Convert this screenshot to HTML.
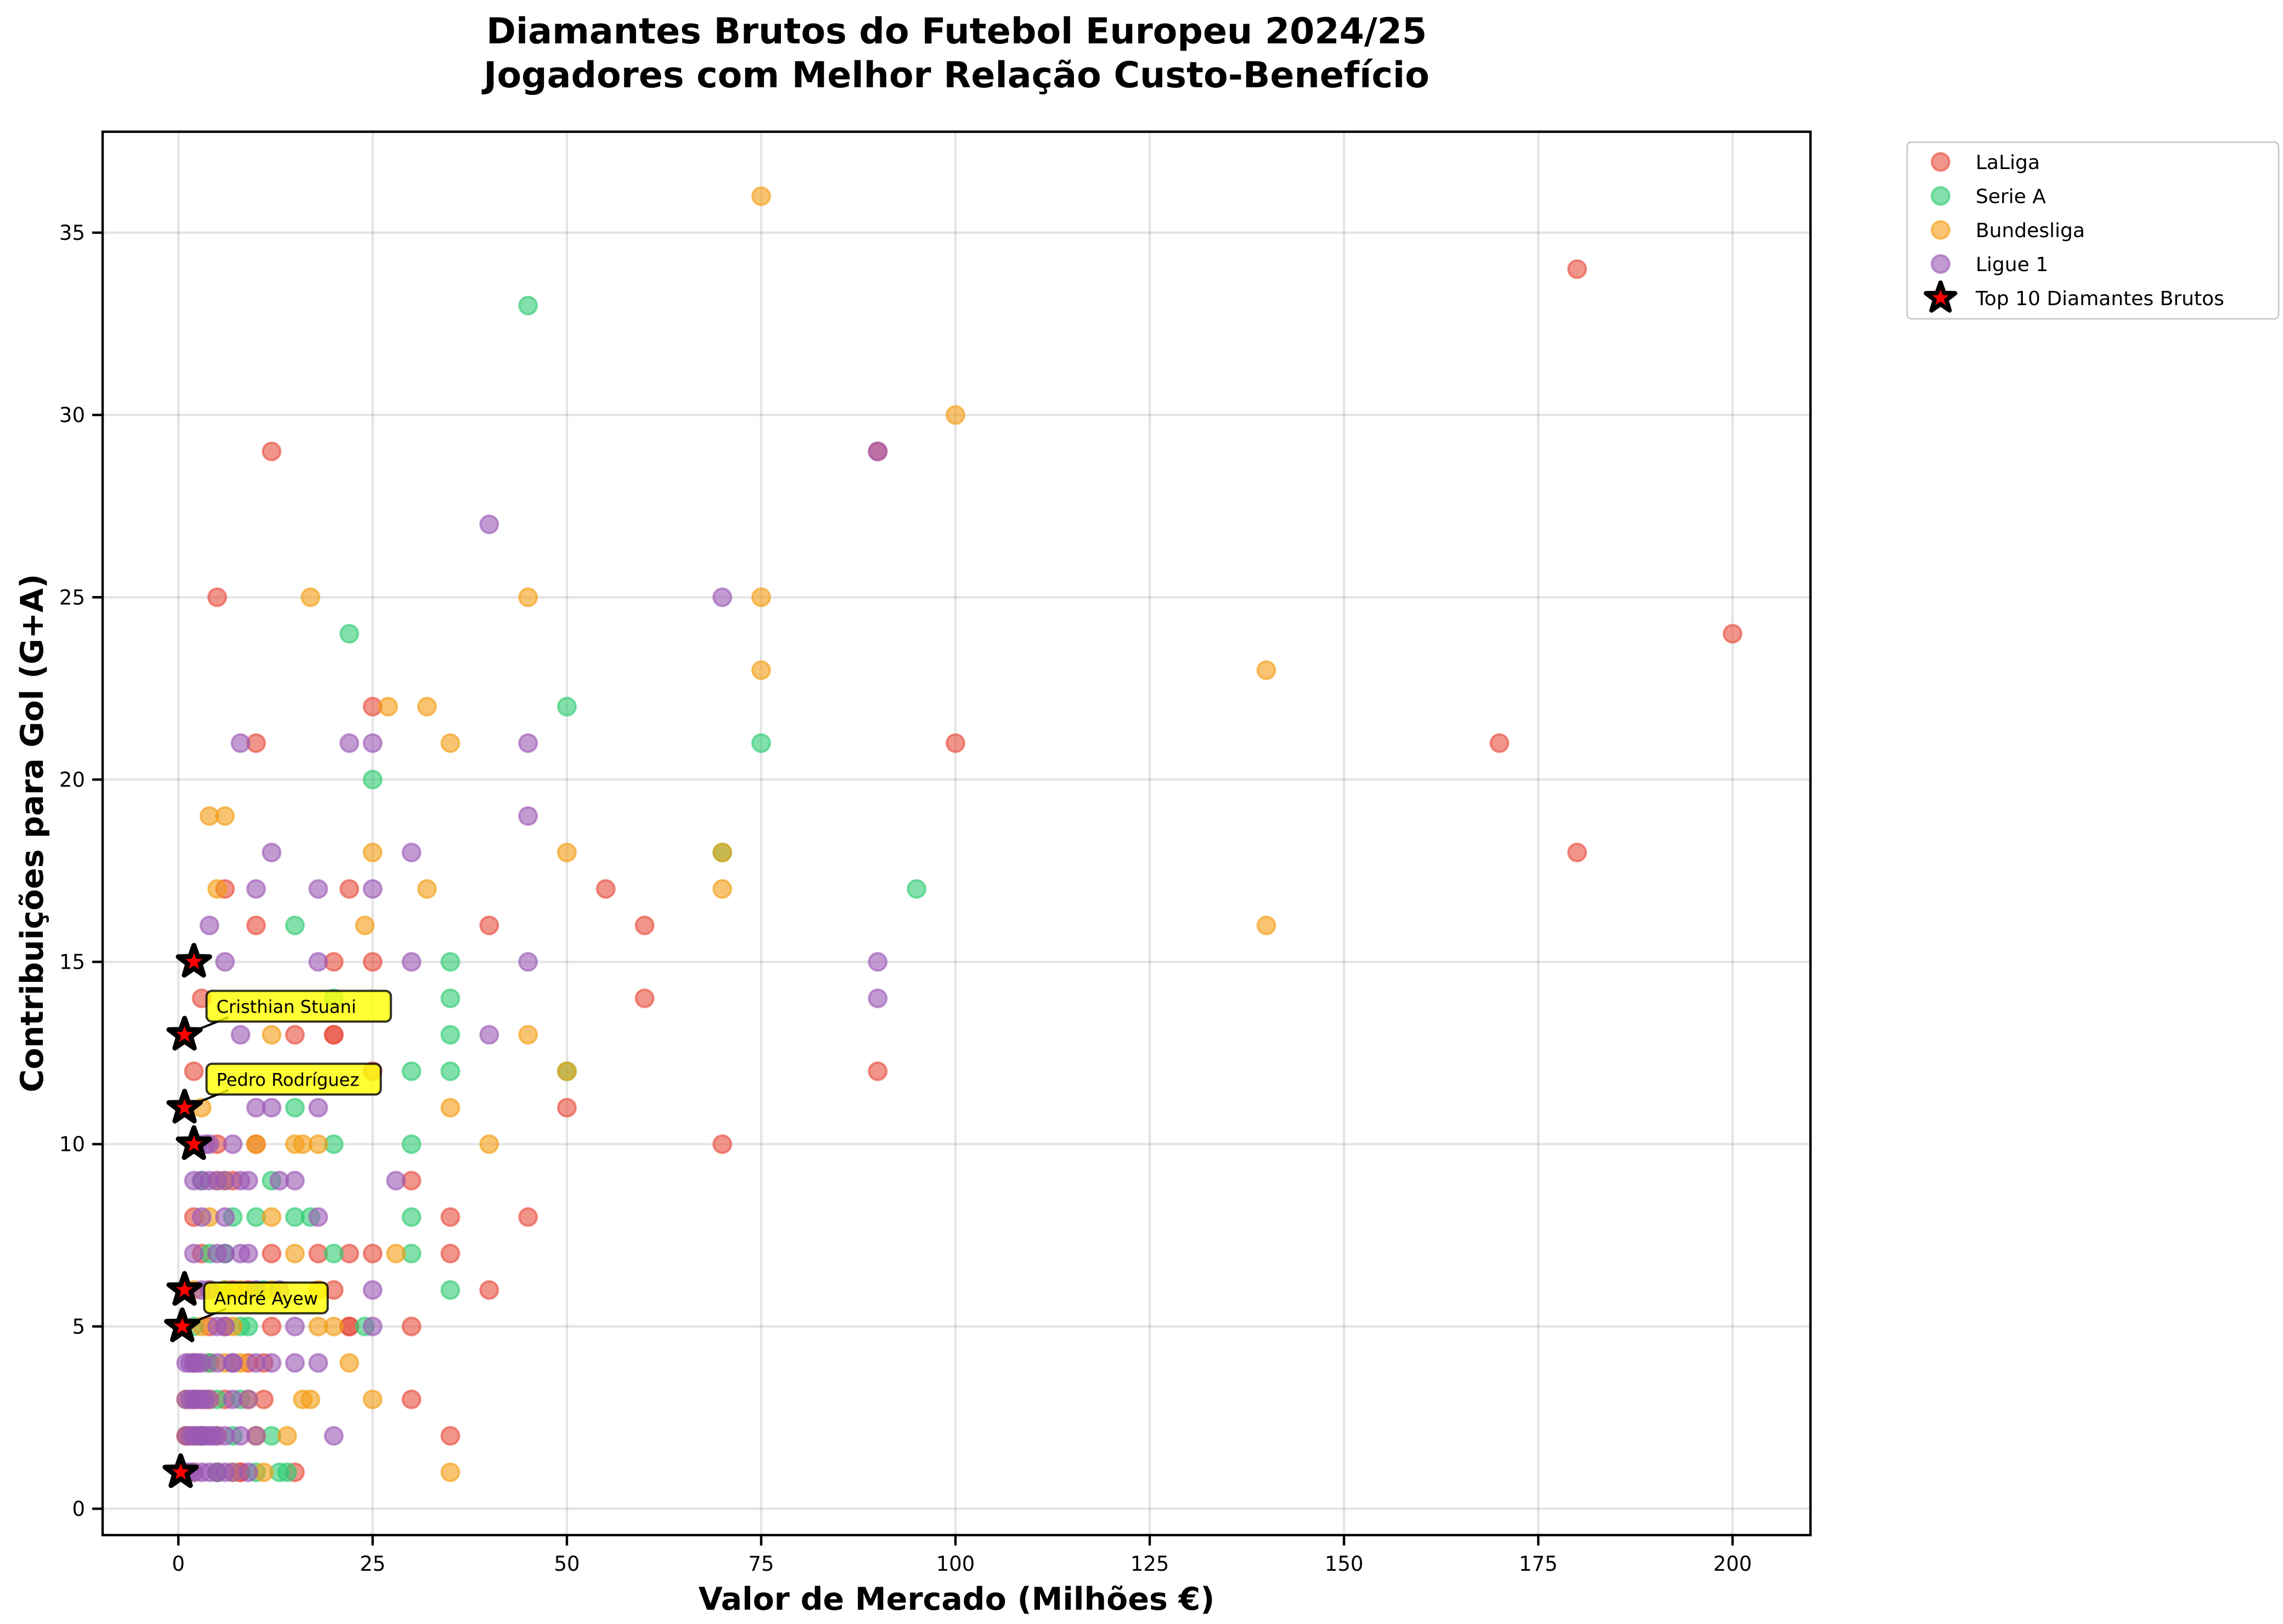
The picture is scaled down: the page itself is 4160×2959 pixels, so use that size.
<!DOCTYPE html>
<html><head><meta charset="utf-8"><style>
html,body{margin:0;padding:0;background:#fff}
svg{display:block;font-family:"DejaVu Sans","Liberation Sans",sans-serif}
</style></head><body>
<svg id="chart" width="4160" height="2959" viewBox="0 0 4160 2959" xmlns="http://www.w3.org/2000/svg">
<rect width="4160" height="2959" fill="#fff"/>
<text x="1743" y="79" font-size="65" font-weight="bold" text-anchor="middle">Diamantes Brutos do Futebol Europeu 2024/25</text>
<text x="1743" y="159" font-size="65" font-weight="bold" text-anchor="middle">Jogadores com Melhor Relação Custo-Benefício</text>
<g id="grid"></g>
<g id="pts"></g>
<g id="stars"></g>
<g id="ann"></g>
<rect x="187" y="240" width="3112" height="2557" fill="none" stroke="#000" stroke-width="4.4"/>
<g id="ticks"></g>
<text x="1743" y="2933" font-size="57" font-weight="bold" text-anchor="middle">Valor de Mercado (Milhões €)</text>
<text transform="translate(78,1518) rotate(-90)" font-size="57" font-weight="bold" text-anchor="middle">Contribuições para Gol (G+A)</text>
<g id="legend">
<rect x="3475" y="259" width="677" height="322" rx="8" fill="#fff" stroke="#ccc" stroke-width="3"/>
</g>
</svg>
<script>
const xTicks=[0,25,50,75,100,125,150,175,200];
const yTicks=[0,5,10,15,20,25,30,35];
const leagues=["LaLiga","Serie A","Bundesliga","Ligue 1"];
const colors=["#e74c3c","#2ecc71","#f39c12","#9b59b6"];
const laliga=[[12,29],[5,25],[10,21],[25,22],[180,34],[200,24],[170,21],[100,21],[180,18],[90,29],[55,17],[60,16],[40,16],[60,14],[90,12],[50,11],[70,10],[45,8],[35,8],[35,7],[40,6],[30,5],[30,3],[35,2],[20,15],[25,15],[20,13],[15,13],[22,17],[6,17],[10,16],[3,14],[2,12],[10,10],[2,8],[3,7],[18,7],[22,7],[25,7],[12,5],[22,5],[15,1],[8,1],[20,6],[30,9],[25,12],[20,13],[12,7],[5,10],[6,3],[4,5],[3,2],[9,4],[11,3],[22,5],[7,9],[2,4],[8,1],[1,2],[4,4],[6,5],[9,6],[11,4],[2,3],[5,1],[7,6]];
const seriea=[[45,33],[22,24],[50,22],[25,20],[75,21],[95,17],[35,15],[35,14],[35,13],[35,12],[30,12],[15,16],[30,10],[30,8],[30,7],[35,6],[20,10],[15,11],[12,9],[10,8],[15,8],[17,8],[20,7],[24,5],[12,2],[10,1],[13,1],[20,14],[50,12],[70,18],[7,8],[8,5],[5,3],[4,7],[6,7],[9,5],[5,1],[7,2],[14,1],[3,9],[11,6],[2,5],[4,4],[6,6],[3,2],[8,3]];
const bundes=[[75,36],[100,30],[17,25],[45,25],[75,25],[75,23],[140,23],[27,22],[32,22],[35,21],[4,19],[6,19],[25,18],[50,18],[70,18],[5,17],[32,17],[70,17],[24,16],[140,16],[45,13],[35,11],[40,10],[50,12],[15,10],[18,10],[12,8],[28,7],[22,4],[25,3],[35,1],[20,5],[18,5],[16,3],[17,3],[14,2],[11,1],[3,11],[4,8],[5,9],[1,3],[2,2],[6,4],[8,6],[12,13],[10,10],[15,7],[6,6],[3,5],[9,3],[7,1],[1,2],[4,3],[12,6],[18,6],[16,10],[6,9],[2,6],[3,3],[5,2],[7,5],[8,4],[4,6],[10,2],[2,1]];
const ligue1=[[40,27],[70,25],[8,21],[22,21],[25,21],[45,21],[45,19],[12,18],[30,18],[10,17],[18,17],[25,17],[4,16],[6,15],[18,15],[30,15],[45,15],[90,15],[90,14],[40,13],[8,13],[90,29],[10,11],[12,11],[18,11],[28,9],[25,6],[25,5],[20,2],[18,4],[10,2],[18,8],[15,9],[9,9],[7,10],[4,10],[5,9],[8,7],[6,7],[3,4],[2,2],[2,3],[1,2],[4,1],[5,2],[3,9],[9,3],[7,4],[15,5],[1,4],[2,4],[3,3],[4,2],[1,1],[2,1],[3,1],[5,1],[6,1],[9,1],[1,3],[3,2],[6,9],[8,9],[2,9],[10,4],[12,4],[13,6],[7,4],[4,3],[2,7],[5,5],[9,7],[15,4],[10,6],[13,9],[1.5,2],[2.5,2],[3.5,2],[4.5,2],[1.5,3],[2.5,3],[3.5,3],[1.5,4],[2.5,4],[6,2],[7,3],[5,4],[6,5],[4,6],[3,6],[5,7],[6,8],[3,8],[4,9],[2.5,10],[3.5,10],[1.5,1],[7,1],[8,2]];
const stars=[[2,15],[0.8,13],[0.8,11],[2,10],[0.8,6],[0.5,5],[0.3,1]];
const annotations=[["Cristhian Stuani",0.8,13],["Pedro Rodríguez",0.8,11],["André Ayew",0.5,5]];
const X=v=>325+v*14.16, Y=v=>2749-v*66.43;
const NS="http://www.w3.org/2000/svg";
function mk(t,a,p){const e=document.createElementNS(NS,t);for(const k in a)e.setAttribute(k,a[k]);p.appendChild(e);return e;}
const grid=document.getElementById('grid'),ticks=document.getElementById('ticks');
xTicks.forEach(t=>{
 const gl=mk('line',{x1:X(t),x2:X(t),y1:240,y2:2797,stroke:'#000','stroke-opacity':0.1,'stroke-width':4.4},grid);
 
 
 const tk=mk('line',{x1:X(t),x2:X(t),y1:2797,y2:2816,stroke:'#000','stroke-width':4.4},ticks);
 
 
 const tl=mk('text',{x:X(t),y:2862,'font-size':37,'text-anchor':'middle'},ticks);tl.textContent=t;
 
 
});
yTicks.forEach(t=>{
 const gl=mk('line',{x1:187,x2:3299,y1:Y(t),y2:Y(t),stroke:'#000','stroke-opacity':0.1,'stroke-width':4.4},grid);
 
 
 const tk=mk('line',{x1:168,x2:187,y1:Y(t),y2:Y(t),stroke:'#000','stroke-width':4.4},ticks);
 
 
 const tl=mk('text',{x:155,y:Y(t)+13,'font-size':37,'text-anchor':'end'},ticks);tl.textContent=t;
 
 
});
const pts=document.getElementById('pts');
[laliga,seriea,bundes,ligue1].forEach((arr,i)=>{
 arr.forEach(p=>{
  const c=mk('circle',{cx:X(p[0]),cy:Y(p[1]),r:16,fill:colors[i],'fill-opacity':0.6,stroke:colors[i],'stroke-opacity':0.6,'stroke-width':4},pts);
  
  
 });
});
function starPath(cx,cy,R){let d='';for(let k=0;k<10;k++){const r=k%2?R*0.4:R;const a=-Math.PI/2+k*Math.PI/5;d+=(k?'L':'M')+(cx+r*Math.cos(a)).toFixed(1)+','+(cy+r*Math.sin(a)).toFixed(1);}return d+'Z';}
const sg=document.getElementById('stars');
stars.forEach(p=>{
 const s=mk('path',{d:starPath(X(p[0]),Y(p[1]),30),fill:'red',stroke:'#000','stroke-width':9,'stroke-linejoin':'round'},sg);
 
 
});
const ag=document.getElementById('ann');
annotations.forEach(a=>{
 const px=X(a[1]),py=Y(a[2]);
 const tx=px+40,ty=py-50;
 const w=a[0].length*18.5+40;
 const ln=mk('line',{x1:px+15,y1:py-6,x2:tx+40,y2:ty+18,stroke:'#000','stroke-width':4},ag);
 
 
 const r=mk('rect',{x:tx,y:ty-30,width:w,height:56,rx:10,fill:'#ffff00','fill-opacity':0.8,stroke:'#000','stroke-opacity':0.8,'stroke-width':4},ag);
 
 
 const t=mk('text',{x:tx+18,y:ty+10,'font-size':32},ag);t.textContent=a[0];
 
 
});
const lg=document.getElementById('legend');
const labels=leagues.concat(["Top 10 Diamantes Brutos"]);
labels.forEach((l,i)=>{
 const y=295+i*62;
 let m;
 if(i<4){m=mk('circle',{cx:3536,cy:y,r:16,fill:colors[i],'fill-opacity':0.6,stroke:colors[i],'stroke-opacity':0.6,'stroke-width':4},lg);}
 else{m=mk('path',{d:starPath(3536,y,28),fill:'red',stroke:'#000','stroke-width':8,'stroke-linejoin':'round'},lg);}
 
 
 const t=mk('text',{x:3600,y:y+13,'font-size':36},lg);t.textContent=l;
 
 
});
</script>
</body></html>
